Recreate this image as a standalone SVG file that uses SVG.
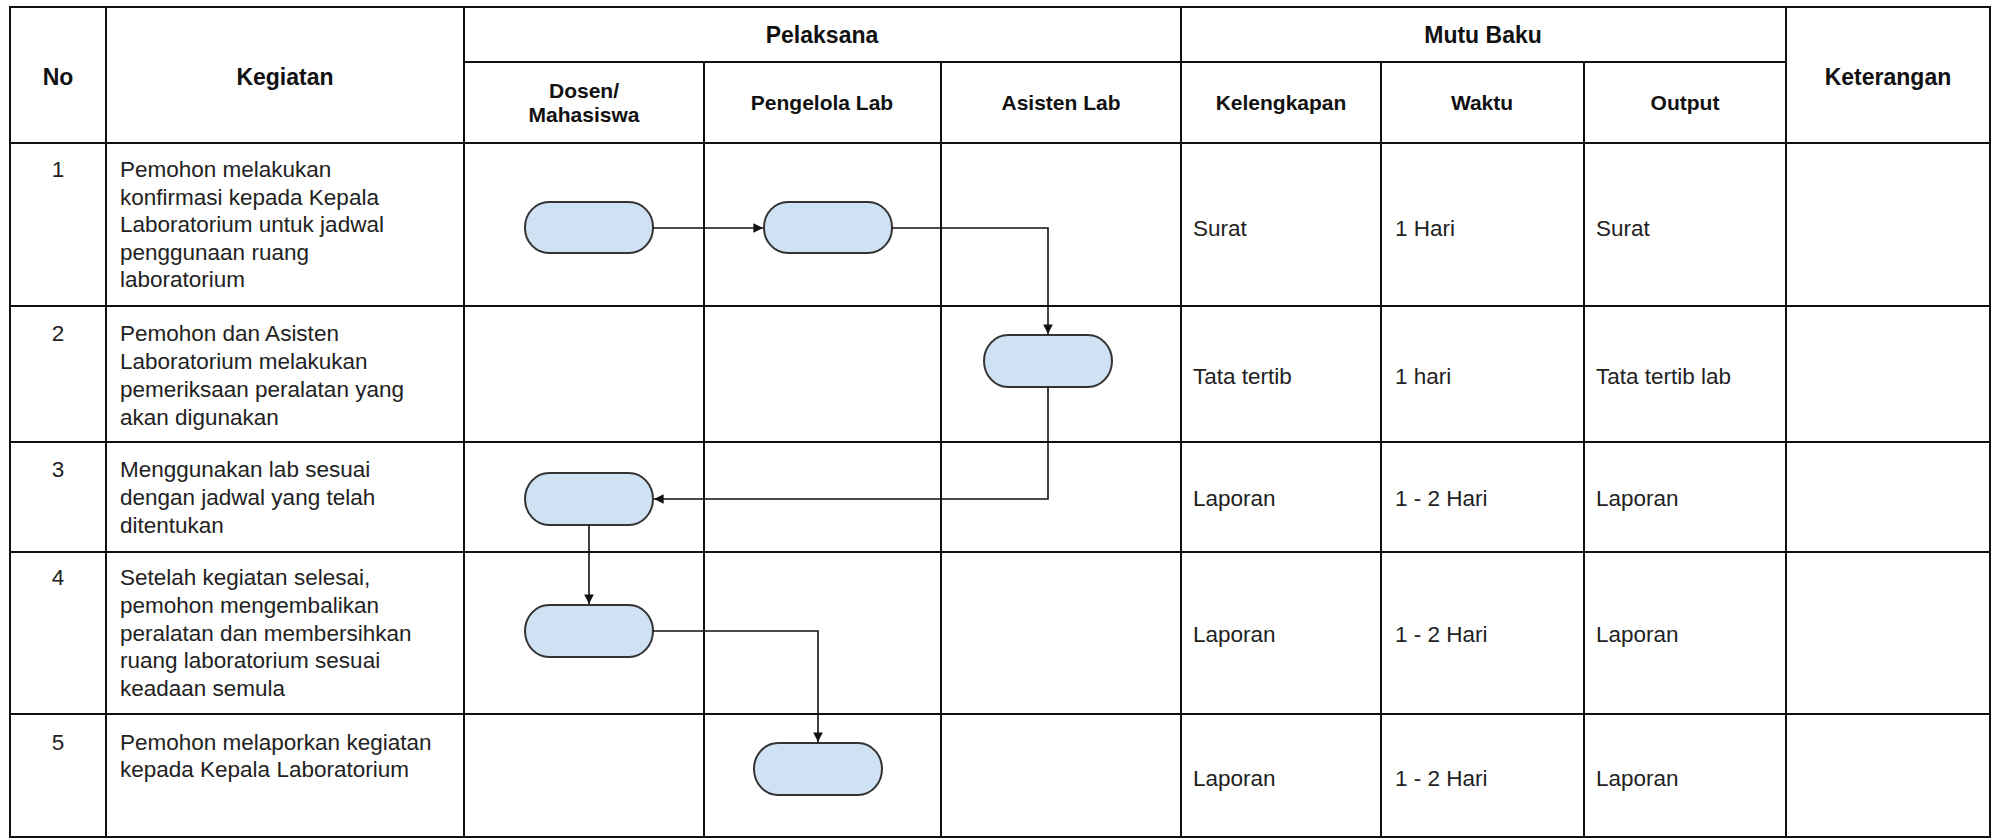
<svg xmlns="http://www.w3.org/2000/svg" width="1995" height="839" viewBox="0 0 1995 839">
<defs>
<style>
.grid{stroke:#111;stroke-width:2;fill:none}
.h1{font-family:"Liberation Sans",Arial,sans-serif;font-size:23px;font-weight:bold;fill:#111;text-anchor:middle}
.h2{font-family:"Liberation Sans",Arial,sans-serif;font-size:21px;font-weight:bold;fill:#111;text-anchor:middle}
.t{font-family:"Liberation Sans",Arial,sans-serif;font-size:22.5px;fill:#222}
.n{font-family:"Liberation Sans",Arial,sans-serif;font-size:22.5px;fill:#222;text-anchor:middle}
.node{fill:#cfe2f3;stroke:#333;stroke-width:2}
.conn{stroke:#111;stroke-width:1.6;fill:none;marker-end:url(#arr)}
</style>
<marker id="arr" viewBox="0 0 10 10" refX="10" refY="5" markerWidth="6" markerHeight="6" markerUnits="strokeWidth" orient="auto">
<path d="M0,0 L10,5 L0,10 z" fill="#111"/>
</marker>
</defs>
<rect width="1995" height="839" fill="#fff"/>
<g id="table">
<rect class="grid" x="10" y="7" width="1980" height="830"/>
<line class="grid" x1="106" y1="7" x2="106" y2="837"/>
<line class="grid" x1="464" y1="7" x2="464" y2="837"/>
<line class="grid" x1="704" y1="62" x2="704" y2="837"/>
<line class="grid" x1="941" y1="62" x2="941" y2="837"/>
<line class="grid" x1="1181" y1="7" x2="1181" y2="837"/>
<line class="grid" x1="1381" y1="62" x2="1381" y2="837"/>
<line class="grid" x1="1584" y1="62" x2="1584" y2="837"/>
<line class="grid" x1="1786" y1="7" x2="1786" y2="837"/>
<line class="grid" x1="464" y1="62" x2="1786" y2="62"/>
<line class="grid" x1="10" y1="143" x2="1990" y2="143"/>
<line class="grid" x1="10" y1="306" x2="1990" y2="306"/>
<line class="grid" x1="10" y1="442" x2="1990" y2="442"/>
<line class="grid" x1="10" y1="552" x2="1990" y2="552"/>
<line class="grid" x1="10" y1="714" x2="1990" y2="714"/>
</g>
<g id="headers">
<text class="h1" x="58" y="85">No</text>
<text class="h1" x="285" y="85">Kegiatan</text>
<text class="h1" x="822" y="43">Pelaksana</text>
<text class="h1" x="1483" y="43">Mutu Baku</text>
<text class="h1" x="1888" y="85">Keterangan</text>
<text class="h2" x="584" y="98">Dosen/</text>
<text class="h2" x="584" y="122">Mahasiswa</text>
<text class="h2" x="822" y="110">Pengelola Lab</text>
<text class="h2" x="1061" y="110">Asisten Lab</text>
<text class="h2" x="1281" y="110">Kelengkapan</text>
<text class="h2" x="1482" y="110">Waktu</text>
<text class="h2" x="1685" y="110">Output</text>
</g>
<g id="row1">
<text class="n" x="58" y="177">1</text>
<text class="t" x="120" y="177">Pemohon melakukan</text>
<text class="t" x="120" y="204.5">konfirmasi kepada Kepala</text>
<text class="t" x="120" y="232">Laboratorium untuk jadwal</text>
<text class="t" x="120" y="259.5">penggunaan ruang</text>
<text class="t" x="120" y="287">laboratorium</text>
<text class="t" x="1193" y="236">Surat</text>
<text class="t" x="1395" y="236">1 Hari</text>
<text class="t" x="1596" y="236">Surat</text>
</g>
<g id="row2">
<text class="n" x="58" y="341">2</text>
<text class="t" x="120" y="341">Pemohon dan Asisten</text>
<text class="t" x="120" y="369">Laboratorium melakukan</text>
<text class="t" x="120" y="397">pemeriksaan peralatan yang</text>
<text class="t" x="120" y="425">akan digunakan</text>
<text class="t" x="1193" y="384">Tata tertib</text>
<text class="t" x="1395" y="384">1 hari</text>
<text class="t" x="1596" y="384">Tata tertib lab</text>
</g>
<g id="row3">
<text class="n" x="58" y="477">3</text>
<text class="t" x="120" y="477">Menggunakan lab sesuai</text>
<text class="t" x="120" y="505">dengan jadwal yang telah</text>
<text class="t" x="120" y="533">ditentukan</text>
<text class="t" x="1193" y="506">Laporan</text>
<text class="t" x="1395" y="506">1 - 2 Hari</text>
<text class="t" x="1596" y="506">Laporan</text>
</g>
<g id="row4">
<text class="n" x="58" y="585">4</text>
<text class="t" x="120" y="585">Setelah kegiatan selesai,</text>
<text class="t" x="120" y="613">pemohon mengembalikan</text>
<text class="t" x="120" y="641">peralatan dan membersihkan</text>
<text class="t" x="120" y="668">ruang laboratorium sesuai</text>
<text class="t" x="120" y="696">keadaan semula</text>
<text class="t" x="1193" y="642">Laporan</text>
<text class="t" x="1395" y="642">1 - 2 Hari</text>
<text class="t" x="1596" y="642">Laporan</text>
</g>
<g id="row5">
<text class="n" x="58" y="750">5</text>
<text class="t" x="120" y="750">Pemohon melaporkan kegiatan</text>
<text class="t" x="120" y="777">kepada Kepala Laboratorium</text>
<text class="t" x="1193" y="786">Laporan</text>
<text class="t" x="1395" y="786">1 - 2 Hari</text>
<text class="t" x="1596" y="786">Laporan</text>
</g>
<g id="node1"><rect class="node" x="525" y="202" width="128" height="51" rx="24" ry="25"/></g>
<g id="node2"><rect class="node" x="764" y="202" width="128" height="51" rx="24" ry="25"/></g>
<g id="node3"><rect class="node" x="984" y="335" width="128" height="52" rx="24" ry="26"/></g>
<g id="node4"><rect class="node" x="525" y="473" width="128" height="52" rx="24" ry="26"/></g>
<g id="node5"><rect class="node" x="525" y="605" width="128" height="52" rx="24" ry="26"/></g>
<g id="node6"><rect class="node" x="754" y="743" width="128" height="52" rx="24" ry="26"/></g>
<g id="connectors">
<path class="conn" d="M653,228 L763,228"/>
<path class="conn" d="M892,228 L1048,228 L1048,334"/>
<path class="conn" d="M1048,387 L1048,499 L654,499"/>
<path class="conn" d="M589,525 L589,604"/>
<path class="conn" d="M653,631 L818,631 L818,742"/>
</g>
</svg>
